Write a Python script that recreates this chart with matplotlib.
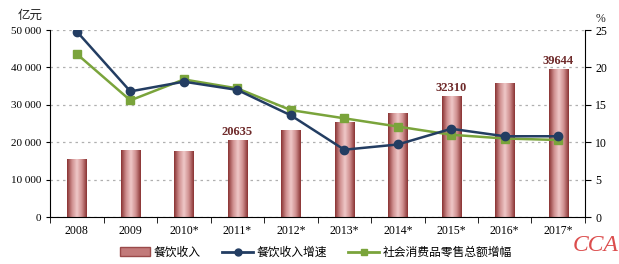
import numpy as np
import matplotlib
matplotlib.use('Agg')
import matplotlib.pyplot as plt
from matplotlib.colors import LinearSegmentedColormap
from matplotlib.lines import Line2D
from matplotlib.patches import Patch

plt.rcParams['font.family'] = ['Liberation Serif', 'Noto Sans CJK SC', 'DejaVu Sans']

# 数据
years = ['2008', '2009', '2010*', '2011*', '2012*', '2013*', '2014*', '2015*', '2016*', '2017*']
revenue = [15404, 17998, 17636, 20635, 23283, 25392, 27860, 32310, 35799, 39644]
rev_growth = [24.8, 16.8, 18.1, 17.0, 13.6, 9.0, 9.7, 11.8, 10.8, 10.8]
retail_growth = [21.8, 15.6, 18.4, 17.2, 14.3, 13.2, 12.1, 11.0, 10.5, 10.3]
labelled = {'2011*': '20635', '2015*': '32310', '2017*': '39644'}

fig = plt.figure(figsize=(6.19, 2.64), dpi=100)
ax = fig.add_axes([0.081, 0.178, 0.864, 0.708])
ax2 = ax.twinx()

x = np.arange(len(years))
bar_w = 0.36
bars = ax.bar(x, revenue, width=bar_w, color='#c07878', zorder=2)

# 圆柱状渐变
cmap = LinearSegmentedColormap.from_list('cyl', ['#8a3434', '#cf8f8f', '#efc8c8', '#cf8f8f', '#8a3434'])
grad = np.linspace(0, 1, 64).reshape(1, -1)
for b in bars:
    bx, by = b.get_x(), b.get_y()
    im = ax.imshow(grad, cmap=cmap, aspect='auto', zorder=2.1,
                   extent=[bx, bx + b.get_width(), by, by + b.get_height()])
    im.set_clip_path(b)

for i, y in enumerate(years):
    if y in labelled:
        ax.text(x[i], revenue[i] + 600, labelled[y], ha='center', va='bottom',
                fontsize=9, fontweight='bold', color='#6e2a2a')

ax2.plot(x, rev_growth, color='#233d62', lw=1.8, marker='o', ms=6, zorder=4)
ax2.plot(x, retail_growth, color='#7aa43b', lw=1.8, marker='s', ms=6, zorder=3)

ax.set_xlim(-0.5, len(years) - 0.5)
ax.set_ylim(0, 50000)
ax2.set_ylim(0, 25)
ax.set_yticks(range(0, 50001, 10000))
ax.set_yticklabels(['0', '10 000', '20 000', '30 000', '40 000', '50 000'], fontsize=8)
ax2.set_yticks(range(0, 26, 5))
ax2.tick_params(axis='y', labelsize=8.5, length=4, direction='out')
ax.tick_params(axis='y', length=3, direction='out')
ax.set_xticks(x)
ax.set_xticklabels(years, fontsize=8.5)
ax.tick_params(axis='x', length=0, pad=6)
ax.set_xticks(np.arange(-0.5, len(years)), minor=True)
ax.tick_params(axis='x', which='minor', length=4, direction='out')

ax.yaxis.grid(True, linestyle=(0, (2, 3)), color='#b0b0b0', lw=0.9, zorder=0)
ax.set_axisbelow(True)
for a in (ax, ax2):
    a.spines['top'].set_visible(False)
    a.spines['left'].set_color('black')
    a.spines['right'].set_color('black')
ax2.spines['left'].set_visible(False)
ax.spines['right'].set_visible(False)
ax2.spines['bottom'].set_visible(False)

fig.text(0.028, 0.93, '亿元', fontsize=9, family=['Noto Sans CJK SC'], color='#222222')
fig.text(0.962, 0.915, '%', fontsize=8.5, color='#222222')

handles = [Patch(facecolor='#c27a7a', edgecolor='#9a4a4a'),
           Line2D([], [], color='#233d62', lw=2, marker='o', ms=5),
           Line2D([], [], color='#7aa43b', lw=2, marker='s', ms=5)]
fig.legend(handles, ['餐饮收入', '餐饮收入增速', '社会消费品零售总额增幅'],
           loc='lower center', bbox_to_anchor=(0.51, -0.02), ncol=3, frameon=False,
           prop={'family': ['Noto Sans CJK SC'], 'size': 8.5},
           handlelength=2.6, columnspacing=1.8, handletextpad=0.3)

# 水印
fig.text(0.925, 0.03, 'CCA', fontsize=17, color='#d83a3a', style='italic',
         family=['Liberation Serif'], ha='left', va='bottom', alpha=0.9)

fig.savefig('out.png', dpi=100)
